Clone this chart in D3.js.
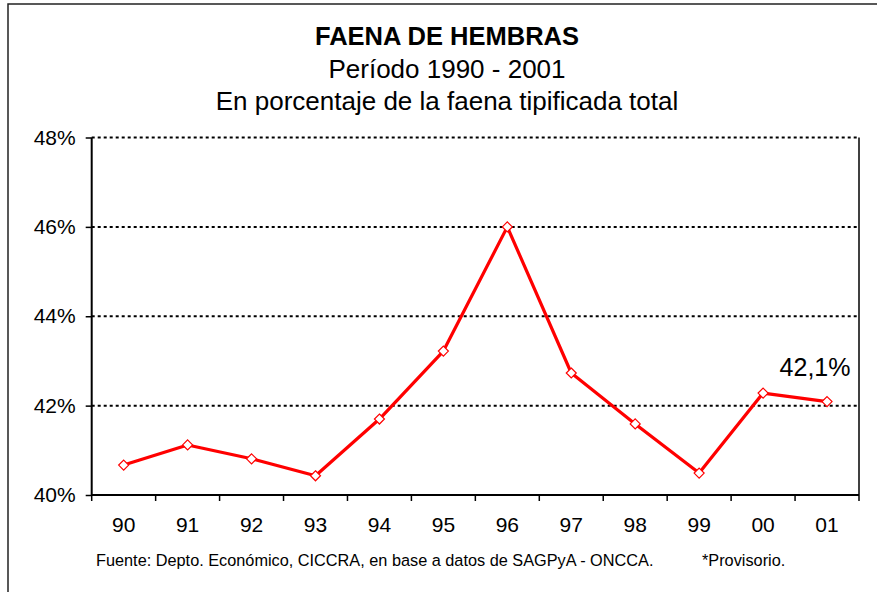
<!DOCTYPE html>
<html>
<head>
<meta charset="utf-8">
<script src="https://cdn.jsdelivr.net/npm/d3@7"></script>
<style>
  body { margin: 0; background: #fff; }
  svg text { font-family: "Liberation Sans", Arial, sans-serif; fill: #000; }
</style>
</head>
<body>
<div id="chart"></div>
<script>
// data
var years = ["90", "91", "92", "93", "94", "95", "96", "97", "98", "99", "00", "01"]
var share = [40.67, 41.12, 40.81, 40.43, 41.70, 43.22, 46.00, 42.73, 41.59, 40.49, 42.28, 42.09]
var yTicks = [40, 42, 44, 46, 48]
var lastLabel = "42,1%"

var W = 877, H = 592
var margin = {top: 137.5, right: 18, bottom: 97, left: 91.7}
var width = W - margin.left - margin.right
var height = H - margin.top - margin.bottom

var svg = d3.select("#chart")
  .append("svg")
    .attr("width", W)
    .attr("height", H)

// outer frame (only top and left visible)
svg.append("rect")
  .attr("x", 8).attr("y", 4)
  .attr("width", W + 20).attr("height", H + 20)
  .attr("fill", "none")
  .attr("stroke", "#222")
  .attr("stroke-width", 1.5)

// titles
svg.append("text")
  .attr("x", 447).attr("y", 45)
  .attr("text-anchor", "middle")
  .style("font-size", "25.5px").style("font-weight", "bold")
  .text("FAENA DE HEMBRAS")
svg.append("text")
  .attr("x", 447).attr("y", 78)
  .attr("text-anchor", "middle")
  .style("font-size", "26px")
  .text("Período 1990 - 2001")
svg.append("text")
  .attr("x", 447).attr("y", 110)
  .attr("text-anchor", "middle")
  .style("font-size", "26px")
  .text("En porcentaje de la faena tipificada total")

var g = svg.append("g")
  .attr("transform", "translate(" + margin.left + "," + margin.top + ")")

var xScale = d3.scaleBand()
  .domain(years)
  .range([0, width])
var yScale = d3.scaleLinear()
  .domain([40, 48])
  .range([height, 0])

// dotted gridlines
g.selectAll(".grid")
  .data(yTicks.filter(function(d) { return d > 40 }))
  .enter()
  .append("line")
    .attr("class", "grid")
    .attr("x1", 0).attr("x2", width)
    .attr("y1", function(d) { return yScale(d) })
    .attr("y2", function(d) { return yScale(d) })
    .attr("stroke", "#000")
    .attr("stroke-width", 2)
    .attr("stroke-dasharray", "3,3")

// right border of plot
g.append("line")
  .attr("x1", width).attr("x2", width)
  .attr("y1", 0).attr("y2", height)
  .attr("stroke", "#000")
  .attr("stroke-width", 1.5)

// y axis
var yAxis = g.append("g")
  .call(d3.axisLeft(yScale)
    .tickValues(yTicks)
    .tickSize(6)
    .tickPadding(10)
    .tickFormat(function(d) { return d + "%" }))
yAxis.select(".domain").attr("stroke-width", 2).attr("d", "M0," + height + "V0")
yAxis.selectAll(".tick line").attr("stroke-width", 1.5)
yAxis.selectAll("text")
  .style("font-size", "21px")
  .style("font-family", "Liberation Sans, Arial, sans-serif")

// x axis, ticks at band edges
var xAxis = g.append("g")
  .attr("transform", "translate(0," + height + ")")
  .call(d3.axisBottom(xScale).tickSize(0).tickPadding(22))
xAxis.select(".domain").attr("stroke-width", 2).attr("d", "M0,0H" + width)
xAxis.selectAll("text")
  .style("font-size", "21px")
  .style("font-family", "Liberation Sans, Arial, sans-serif")

var edges = years.map(function(d) { return xScale(d) }).concat([width])
xAxis.selectAll(".edge")
  .data(edges)
  .enter()
  .append("line")
    .attr("class", "edge")
    .attr("x1", function(d) { return d }).attr("x2", function(d) { return d })
    .attr("y1", 0).attr("y2", 6)
    .attr("stroke", "#000")
    .attr("stroke-width", 1.5)

var cx = function(d, i) { return xScale(years[i]) + xScale.bandwidth() / 2 }

// the red line
var line = d3.line()
  .x(cx)
  .y(function(d) { return yScale(d) })

g.append("path")
  .datum(share)
  .attr("d", line)
  .attr("fill", "none")
  .attr("stroke", "#ff0000")
  .attr("stroke-width", 3.2)
  .attr("stroke-linejoin", "round")

// diamond markers
g.selectAll(".marker")
  .data(share)
  .enter()
  .append("path")
    .attr("class", "marker")
    .attr("d", "M0,-5L5,0L0,5L-5,0Z")
    .attr("transform", function(d, i) { return "translate(" + cx(d, i) + "," + yScale(d) + ")" })
    .attr("fill", "#fff")
    .attr("stroke", "#ff0000")
    .attr("stroke-width", 1.2)

// label for last value
g.append("text")
  .attr("x", cx(share[11], 11) - 12)
  .attr("y", yScale(share[11]) - 26)
  .attr("text-anchor", "middle")
  .style("font-size", "25px")
  .text(lastLabel)

// footer
svg.append("text")
  .attr("x", 96).attr("y", 566)
  .style("font-size", "16.3px")
  .text("Fuente: Depto. Económico, CICCRA, en base a datos de SAGPyA - ONCCA.")
svg.append("text")
  .attr("x", 702).attr("y", 566)
  .style("font-size", "16.3px")
  .text("*Provisorio.")
</script>
</body>
</html>
